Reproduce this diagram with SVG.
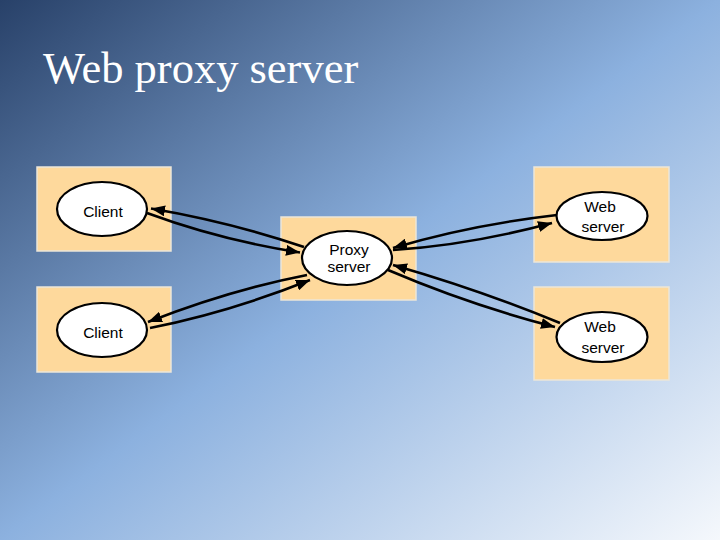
<svg xmlns="http://www.w3.org/2000/svg" width="720" height="540" viewBox="0 0 720 540">
<defs>
<linearGradient id="bg" x1="0" y1="0" x2="1" y2="1">
<stop offset="0" stop-color="#284169"/>
<stop offset="0.5" stop-color="#8cb1df"/>
<stop offset="1" stop-color="#f5f8fc"/>
</linearGradient>
<marker id="ah" markerUnits="userSpaceOnUse" markerWidth="15" markerHeight="11" refX="14" refY="5.5" orient="auto">
<path d="M0,0 L14,5.5 L0,11 z" fill="#000"/>
</marker>
</defs>
<style>
.box{fill:#fed99c;stroke:#ece6d9;stroke-width:1.5}
.node{fill:#fff;stroke:#000;stroke-width:2.2}
.lbl{font-family:"Liberation Sans",Arial,sans-serif;font-size:15.5px;fill:#000;text-anchor:middle}
.edge{fill:none;stroke:#000;stroke-width:2.6;marker-end:url(#ah)}
.title{font-family:"Liberation Serif","Times New Roman",serif;font-size:44.5px;fill:#fff}
</style>
<rect width="720" height="540" fill="url(#bg)"/>
<text class="title" x="43" y="83">Web proxy server</text>
<g id="client1">
<rect class="box" x="37" y="167" width="134" height="84"/>
<ellipse class="node" cx="102" cy="209" rx="45" ry="27"/>
<text class="lbl" x="103" y="217">Client</text>
</g>
<g id="client2">
<rect class="box" x="37" y="287" width="134" height="85"/>
<ellipse class="node" cx="102" cy="330" rx="45" ry="27"/>
<text class="lbl" x="103" y="338">Client</text>
</g>
<g id="proxy">
<rect class="box" x="281" y="217" width="135" height="83"/>
<ellipse class="node" cx="347" cy="258" rx="45" ry="27"/>
<text class="lbl" x="349" y="255">Proxy</text>
<text class="lbl" x="349" y="272">server</text>
</g>
<g id="web1">
<rect class="box" x="534" y="167" width="135" height="95"/>
<ellipse class="node" cx="602" cy="216" rx="45.5" ry="24"/>
<text class="lbl" x="600" y="212">Web</text>
<text class="lbl" x="603" y="232">server</text>
</g>
<g id="web2">
<rect class="box" x="534" y="287" width="135" height="93"/>
<ellipse class="node" cx="602" cy="337" rx="45.5" ry="25"/>
<text class="lbl" x="600" y="332">Web</text>
<text class="lbl" x="603" y="353">server</text>
</g>
<g id="connectors">
<path class="edge" d="M304,247 Q230,222 151,208.5"/>
<path class="edge" d="M147,213 Q220,240 300,252.5"/>
<path class="edge" d="M307,275 Q230,290 148,322"/>
<path class="edge" d="M150,328 Q230,312 310,280"/>
<path class="edge" d="M557,215 Q470,225 393,248"/>
<path class="edge" d="M393,250 Q470,245 552,223"/>
<path class="edge" d="M560,323 Q480,290 393,265"/>
<path class="edge" d="M388,270 Q470,305 555,327"/>
</g>
</svg>
